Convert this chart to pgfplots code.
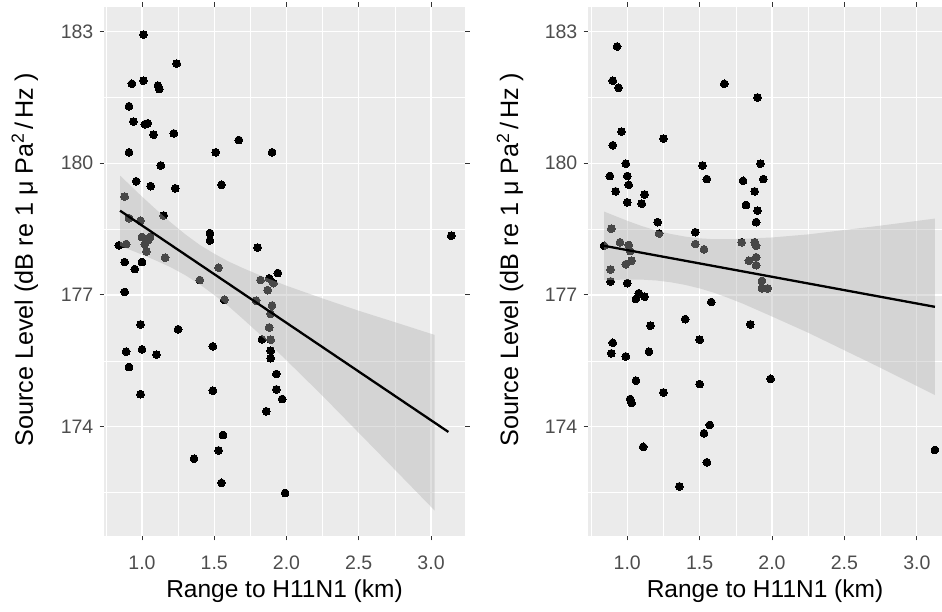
\documentclass[border=0pt]{standalone}
\usepackage{fontspec}
\setmainfont{Liberation Sans}
\usepackage{pgfplots}
\pgfplotsset{compat=1.18}
\definecolor{panelbg}{HTML}{EBEBEB}
\definecolor{tickgray}{HTML}{4D4D4D}
\definecolor{tickmark}{HTML}{333333}
\newcommand\ticfont{\fontsize{19.5bp}{19.5bp}\selectfont}
\newcommand\labfont{\fontsize{24.5bp}{24.5bp}\selectfont}
\newcommand\ylabfont{\fontsize{25.2bp}{25.2bp}\selectfont}
\pgfplotsset{ggp/.style={
  scale only axis, anchor=south west,
  axis background/.style={fill=panelbg},
  axis line style={draw=none},
  ymin=171.51, ymax=183.56,
  xtick={1,1.5,2,2.5,3}, xticklabels={1.0,1.5,2.0,2.5,3.0},
  minor xtick={0.75,1.25,1.75,2.25,2.75},
  ytick={174,177,180,183}, yticklabels={174,177,180,183},
  minor ytick={172.5,175.5,178.5,181.5},
  grid=both,
  major grid style={white, line width=1.1bp},
  minor grid style={white, line width=0.55bp},
  tick align=outside, major tick length=4.5bp, minor tick length=0pt,
  tick style={tickmark, line width=1bp},
  xticklabel style={font=\ticfont, text=tickgray, anchor=base, inner sep=0pt, yshift=-29bp},
  yticklabel style={font=\ticfont, text=tickgray, anchor=east, inner sep=0pt, xshift=-6bp},
  xlabel={Range to H11N1 (km)},
  ylabel={Source Level (dB re 1 μ Pa\textsuperscript{2}\hspace{4bp}/\hspace{4bp}Hz\hspace{6bp})},
  every axis x label/.style={at={(axis description cs:0.5,-0.117)}, anchor=base, font=\labfont, text=black},
  clip=true, clip marker paths=true,
  pts/.style={only marks, mark=*, mark size=3.9bp, mark options={fill=black, draw=black, line width=0pt}},
  band/.style={fill=gray!60, fill opacity=0.4, draw=none},
  fit/.style={black, line width=2.3bp},
}}
\begin{document}
\begin{tikzpicture}[x=1bp,y=1bp]
\useasboundingbox (0,0) rectangle (942,612);
% ---------- left panel ----------
\begin{axis}[ggp, at={(104bp,76bp)}, width=361bp, height=529bp,
  xmin=0.737, xmax=3.235,
  every axis y label/.style={at={(axis description cs:-0.219,0.522)}, rotate=90, anchor=center, font=\ylabfont, text=black}]
\addplot[pts] coordinates {
(1.01,182.93)(1.24,182.27)(0.93,181.81)(1.01,181.88)(1.11,181.77)(1.12,181.69)
(0.91,181.30)(0.94,180.95)(1.02,180.89)(1.04,180.91)(1.08,180.65)(1.22,180.68)
(1.67,180.53)(0.91,180.25)(1.51,180.25)(1.90,180.25)(1.13,179.95)(0.96,179.59)
(1.06,179.48)(1.23,179.43)(1.55,179.51)(0.88,179.24)(1.15,178.81)(0.91,178.75)
(0.99,178.69)(1.47,178.41)(1.47,178.24)(0.84,178.13)(0.89,178.16)(1.00,178.32)
(1.04,178.24)(1.055,178.32)(1.02,178.16)(1.03,177.99)(1.80,178.08)(1.16,177.85)
(0.88,177.75)(1.00,177.75)(0.95,177.59)(1.53,177.62)(1.94,177.50)(1.82,177.34)
(1.88,177.38)(1.91,177.27)(1.87,177.11)(1.40,177.34)(0.88,177.07)(1.57,176.89)
(1.79,176.87)(1.90,176.76)(1.89,176.57)(0.99,176.33)(1.25,176.22)(1.88,176.26)
(1.83,175.99)(1.89,175.98)(1.89,175.73)(1.89,175.56)(1.49,175.83)(0.89,175.71)
(1.00,175.76)(1.10,175.64)(0.91,175.36)(1.93,175.20)(1.93,174.85)(1.97,174.63)
(0.99,174.74)(1.49,174.82)(1.86,174.35)(1.56,173.81)(1.53,173.46)(1.36,173.27)
(1.55,172.72)(1.99,172.49)(3.14,178.35)
};
\addplot[band] coordinates {
(0.848,179.72)(1.0,179.24)(1.1,178.94)(1.2,178.65)(1.3,178.38)(1.4,178.14)(1.5,177.94)
(1.6,177.76)(1.7,177.61)(1.8,177.47)(2.0,177.21)(2.25,176.92)(2.5,176.64)(2.75,176.38)(3.025,176.09)
(3.025,172.09)(2.75,173.02)(2.5,173.86)(2.25,174.70)(2.0,175.51)(1.8,176.15)(1.7,176.45)
(1.6,176.74)(1.5,177.00)(1.4,177.24)(1.3,177.45)(1.2,177.63)(1.1,177.78)(1.0,177.92)(0.848,178.12)
};
\addplot[fit] coordinates {(0.848,178.92)(3.12,173.88)};
\end{axis}
% ---------- right panel ----------
\begin{axis}[ggp, at={(588bp,76bp)}, width=354bp, height=529bp,
  xmin=0.729, xmax=3.174,
  every axis y label/.style={at={(axis description cs:-0.22,0.522)}, rotate=90, anchor=center, font=\ylabfont, text=black}]
\addplot[pts] coordinates {
(0.93,182.66)(0.90,181.88)(0.94,181.72)(1.67,181.81)(1.90,181.50)(0.96,180.72)
(0.90,180.41)(1.25,180.56)(0.99,179.99)(1.52,179.95)(1.92,179.99)(0.88,179.71)
(1.00,179.71)(1.01,179.51)(0.92,179.36)(1.12,179.29)(1.10,179.08)(1.00,179.11)
(1.55,179.64)(1.80,179.60)(1.94,179.64)(1.88,179.36)(1.82,179.05)(1.90,178.92)
(1.89,178.66)(1.21,178.66)(1.22,178.40)(1.47,178.43)(0.89,178.51)(0.95,178.20)
(1.01,178.14)(0.84,178.12)(1.47,178.16)(1.53,178.04)(1.79,178.20)(1.88,178.20)
(1.89,178.12)(1.02,178.00)(1.03,177.78)(0.99,177.70)(1.89,177.86)(1.84,177.78)
(1.89,177.68)(0.885,177.58)(1.93,177.32)(1.93,177.15)(1.97,177.15)(0.885,177.31)
(1.00,177.27)(1.08,177.04)(1.12,176.96)(1.06,176.91)(1.58,176.84)(1.40,176.45)
(1.85,176.33)(1.16,176.30)(1.50,175.98)(0.90,175.91)(0.89,175.67)(0.99,175.60)
(1.15,175.71)(1.06,175.05)(1.50,174.97)(1.99,175.09)(1.25,174.78)(1.02,174.63)
(1.03,174.54)(1.57,174.04)(1.53,173.85)(1.11,173.54)(1.55,173.19)(1.36,172.64)
(3.125,173.47)
};
\addplot[band] coordinates {
(0.84,178.90)(1.0,178.69)(1.1,178.57)(1.2,178.47)(1.3,178.39)(1.4,178.33)(1.5,178.29)
(1.6,178.27)(1.7,178.27)(1.8,178.28)(2.0,178.31)(2.25,178.38)(2.5,178.48)(2.75,178.58)(3.125,178.74)
(3.125,174.72)(2.75,175.34)(2.5,175.74)(2.25,176.14)(2.0,176.51)(1.8,176.80)(1.7,176.93)
(1.6,177.05)(1.5,177.15)(1.4,177.23)(1.3,177.29)(1.2,177.33)(1.1,177.35)(1.0,177.35)(0.84,177.34)
};
\addplot[fit] coordinates {(0.84,178.12)(3.125,176.73)};
\end{axis}
\end{tikzpicture}
\end{document}
